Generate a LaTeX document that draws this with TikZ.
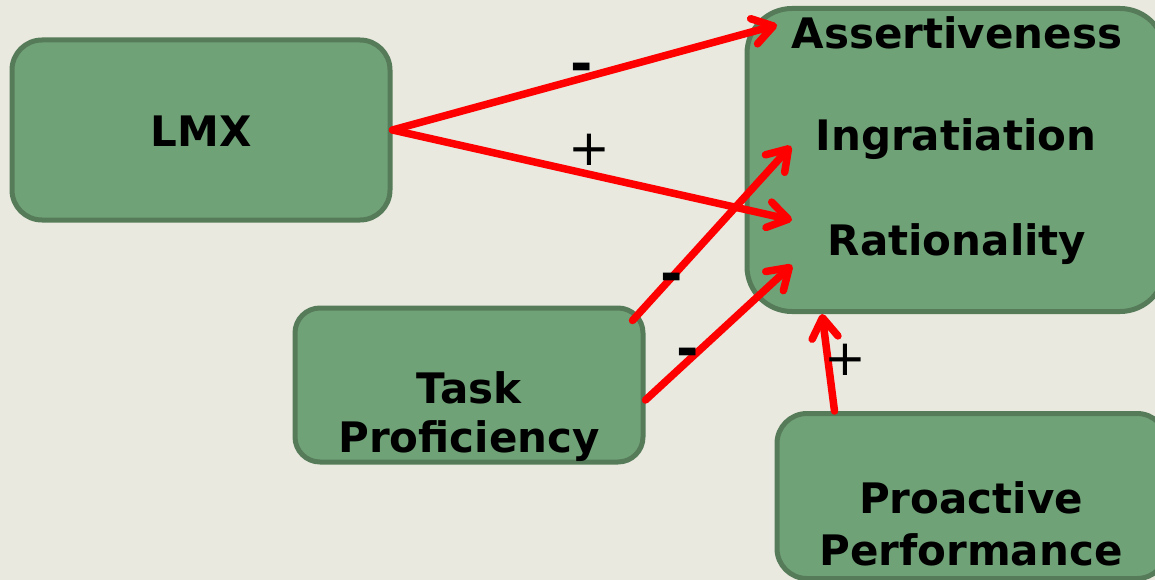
\documentclass[tikz,border=0pt]{standalone}
\usepackage{fontspec}
\setmainfont{DejaVu Sans}
\usetikzlibrary{arrows.meta,calc}
\definecolor{bgc}{HTML}{E9E9DF}
\definecolor{boxfill}{HTML}{70A277}
\definecolor{boxline}{HTML}{567B59}
\definecolor{arrred}{HTML}{FF0000}
\tikzset{
  gbox/.style={draw=boxline, fill=boxfill, line width=5pt, inner sep=0pt},
  btext/.style={font=\fontsize{42}{50}\selectfont\bfseries, anchor=base, inner sep=0pt},
  rel/.style={draw=arrred, line width=7.5pt, line cap=round, -{Straight Barb[length=20pt,width=26pt,round]}},
  sgn/.style={font=\fontsize{50}{56}\selectfont, inner sep=0pt},
  msgn/.style={font=\fontsize{54}{60}\selectfont\bfseries, inner sep=0pt}
}
\begin{document}
\begin{tikzpicture}[x=1pt,y=-1pt]
\useasboundingbox[fill=bgc] (0,0) rectangle (1155,580);
% boxes
\node[gbox, rounded corners=30pt, minimum width=378pt, minimum height=180pt] (lmx) at (201,130) {};
\node[gbox, rounded corners=45pt, minimum width=418pt, minimum height=303pt] (infl) at (956,160) {};
\node[gbox, rounded corners=25pt, minimum width=348pt, minimum height=154pt] (task) at (469,385) {};
\node[gbox, rounded corners=30pt, minimum width=390pt, minimum height=165pt] (proa) at (972,496) {};
% texts
\node[btext] (lmxt) at (201,147) {LMX};
\node[btext] (ass) at (957,49) {Assertiveness};
\node[btext] (ing) at (956,150) {Ingratiation};
\node[btext] (rat) at (957,255) {Rationality};
\node[btext] (task1) at (469,403) {Task};
\node[btext] (task2) at (469,452) {Proficiency};
\node[btext] (pro1) at (971,513) {Proactive};
\node[btext] (pro2) at (971,565) {Performance};
% connectors
\draw[rel] (lmx.east) -- ($(ass.base)+(-180,-24)$);
\draw[rel] (lmx.east) -- ($(rat.base)+(-165,-35)$);
\draw[rel] ($(task.north east)+(-13,15)$) -- ($(ing.base)+(-165,-4)$);
\draw[rel] ($(task.east)+(0,15)$) -- ($(rat.base)+(-165,10)$);
\draw[rel] ($(proa.north west)+(60,0)$) -- ($(infl.south)+(-134,0)$);
% signs
\node[msgn] (s1) at (582,73) {-};
\node[sgn] (s2) at (589,150) {+};
\node[msgn] (s3) at (672,283) {-};
\node[msgn] (s4) at (688,358) {-};
\node[sgn] (s5) at (845,360) {+};
\end{tikzpicture}
\end{document}
